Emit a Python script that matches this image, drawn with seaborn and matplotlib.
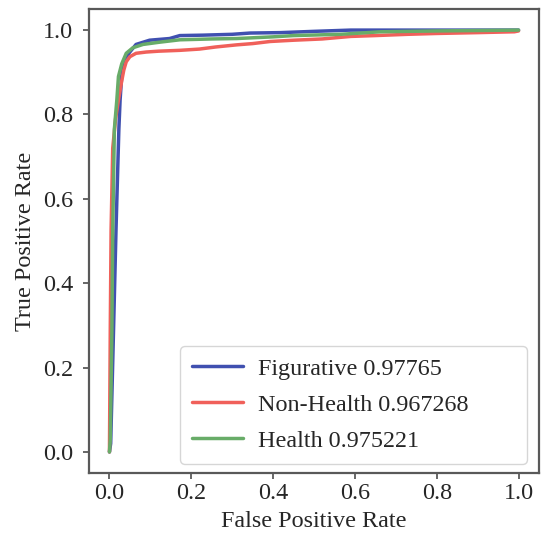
import matplotlib
matplotlib.use("Agg")
import matplotlib.pyplot as plt
import seaborn as sns
import pandas as pd

# ROC curve points (false positive rate, true positive rate) per class
fig_fpr = [0.0, 0.003, 0.010, 0.016, 0.023, 0.026, 0.030, 0.036, 0.049, 0.065,
           0.098, 0.147, 0.172, 0.229, 0.300, 0.344, 0.418, 0.500, 0.590, 1.0]
fig_tpr = [0.0, 0.020, 0.290, 0.526, 0.765, 0.834, 0.892, 0.925, 0.947, 0.966,
           0.976, 0.980, 0.987, 0.988, 0.990, 0.993, 0.994, 0.997, 1.0, 1.0]

non_fpr = [0.0, 0.0005, 0.002, 0.004, 0.008, 0.015, 0.022, 0.029, 0.035, 0.041,
           0.050, 0.065, 0.090, 0.120, 0.172, 0.220, 0.260, 0.311, 0.350, 0.393,
           0.450, 0.520, 0.590, 0.650, 0.729, 0.800, 0.900, 0.990, 1.0]
non_tpr = [0.0, 0.070, 0.290, 0.526, 0.720, 0.790, 0.834, 0.874, 0.905, 0.925,
           0.937, 0.945, 0.948, 0.950, 0.952, 0.955, 0.960, 0.965, 0.968, 0.973,
           0.976, 0.979, 0.985, 0.987, 0.990, 0.992, 0.994, 0.996, 0.998]

hea_fpr = [0.0, 0.002, 0.006, 0.008, 0.012, 0.018, 0.022, 0.030, 0.041, 0.057,
           0.082, 0.120, 0.172, 0.250, 0.311, 0.400, 0.450, 0.565, 0.663, 0.800, 1.0]
hea_tpr = [0.0, 0.030, 0.290, 0.526, 0.765, 0.834, 0.890, 0.920, 0.945, 0.958,
           0.966, 0.971, 0.977, 0.979, 0.980, 0.984, 0.987, 0.990, 0.996, 0.998, 1.0]

labels = ["Figurative 0.97765", "Non-Health 0.967268", "Health 0.975221"]
colors = ["#4050B0", "#F0605A", "#68AC68"]
ticks = [0.0, 0.2, 0.4, 0.6, 0.8, 1.0]

sns.set_style("ticks")
plt.rcParams["font.family"] = ["Liberation Serif", "DejaVu Serif"]
FS = 17.4

fig = plt.figure(figsize=(5.41, 5.38), dpi=100)
ax = fig.add_axes([89 / 541, 1 - 473 / 538, 450 / 541, 464 / 538])

curves = [(fig_fpr, fig_tpr), (non_fpr, non_tpr), (hea_fpr, hea_tpr)]
for (fx, ty), lab, col in zip(curves, labels, colors):
    df = pd.DataFrame({"fpr": fx, "tpr": ty})
    sns.lineplot(data=df, x="fpr", y="tpr", sort=False, estimator=None,
                 color=col, linewidth=2.5, label=lab, ax=ax)

ax.set_xlim(-0.05, 1.05)
ax.set_ylim(-0.05, 1.05)
ax.set_xticks(ticks)
ax.set_yticks(ticks)
ax.set_xlabel("False Positive Rate", fontsize=FS, labelpad=5)
ax.set_ylabel("True Positive Rate", fontsize=FS, labelpad=5)
ax.tick_params(axis="x", labelsize=FS, length=4, width=1.2, color="0.3")
ax.tick_params(axis="y", labelsize=FS, length=4, width=1.2, color="0.3", pad=7.5)
for sp in ax.spines.values():
    sp.set_color("0.35")
    sp.set_linewidth(1.6)

# legend box stretched across the lower-right area of the axes
leg = ax.legend(loc="lower left", bbox_to_anchor=(0.202, 0.02, 0.771, 0.26),
                mode="expand", borderaxespad=0, fontsize=FS, frameon=True,
                fancybox=True, handlelength=2.1, labelspacing=0.58,
                handletextpad=0.65, borderpad=0.5)
leg.get_frame().set_edgecolor("0.8")

fig.savefig("out.png", dpi=100)
